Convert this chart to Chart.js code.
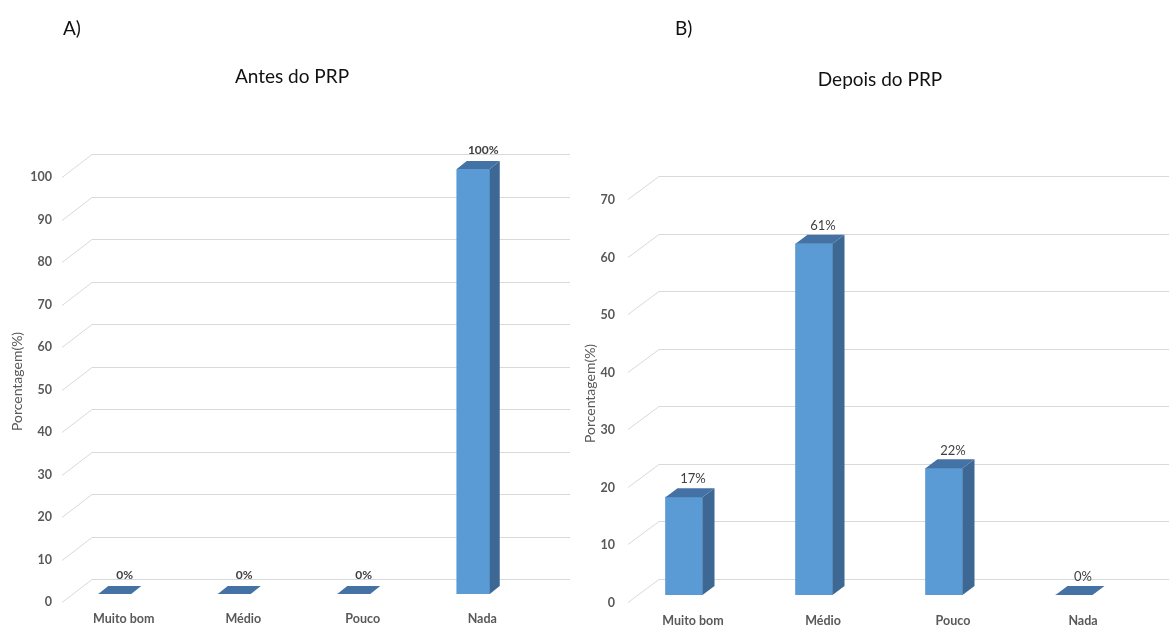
<!DOCTYPE html>
<html>
<head>
<meta charset="utf-8">
<script src="https://cdn.jsdelivr.net/npm/chart.js@4.4.1/dist/chart.umd.min.js"></script>
<style>
  html, body { margin: 0; padding: 0; background: #fff; width: 1169px; height: 626px; overflow: hidden;
               font-family: Lato, "Open Sans", sans-serif; }
  canvas { position: absolute; top: 0; }
  #chartA { left: 0; }
  #chartB { left: 575px; }
  .tag { position: absolute; font-size: 19px; line-height: 20px; color: #111; }
  .ttl { position: absolute; font-size: 19px; line-height: 20px; color: #111; transform: translateX(-50%); white-space: nowrap; }
</style>
</head>
<body>
<canvas id="chartA" width="575" height="626"></canvas>
<canvas id="chartB" width="594" height="626"></canvas>
<div class="tag" style="left:63px;top:18px">A)</div>
<div class="tag" style="left:675px;top:18px">B)</div>
<div class="ttl" style="left:292px;top:66px">Antes do PRP</div>
<div class="ttl" style="left:880px;top:69px">Depois do PRP</div>
<script>
// Response categories and percentages before / after PRP
const categories = ['Muito bom', 'Médio', 'Pouco', 'Nada'];
const antesPct = [0, 0, 0, 100];
const depoisPct = [17, 61, 22, 0];
const antesMax = 100;
const depoisMax = 70;
const tickStep = 10;

const FONT = 'Lato, "Open Sans", sans-serif';

// Pseudo-3D look: receding floor/wall gridlines, bar side + top faces, value labels
const box3d = {
  id: 'box3d',
  beforeDatasetsDraw(chart, args, o) {
    const { ctx, chartArea, scales: { y } } = chart;
    ctx.save();
    ctx.strokeStyle = '#d9d9d9';
    ctx.lineWidth = 1;
    y.ticks.forEach(t => {
      const py = Math.round(y.getPixelForValue(t.value)) + 0.5;
      const x0 = chartArea.left + o.floorX;
      const x1 = chartArea.left + o.wallX;
      const x2 = o.wallToEdge ? chart.width : chartArea.right + o.wallX;
      ctx.beginPath();
      ctx.moveTo(x0, py + o.floorY);
      ctx.lineTo(x1, py + o.wallY);
      ctx.lineTo(x2, py + o.wallY);
      ctx.stroke();
    });
    ctx.restore();
  },
  afterDatasetsDraw(chart, args, o) {
    const { ctx } = chart;
    const meta = chart.getDatasetMeta(0);
    const data = chart.data.datasets[0].data;
    ctx.save();
    meta.data.forEach((bar, i) => {
      const { x, y, base, width } = bar.getProps(['x', 'y', 'base', 'width'], true);
      const l = x - width / 2, r = x + width / 2;
      if (base - y > 0.5) {
        ctx.fillStyle = o.sideColor;
        ctx.beginPath();
        ctx.moveTo(r, base);
        ctx.lineTo(r + o.dx, base + o.dy);
        ctx.lineTo(r + o.dx, y + o.dy);
        ctx.lineTo(r, y);
        ctx.closePath();
        ctx.fill();
      }
      ctx.fillStyle = o.topColor;
      ctx.beginPath();
      ctx.moveTo(l, y);
      ctx.lineTo(l + o.dx, y + o.dy);
      ctx.lineTo(r + o.dx, y + o.dy);
      ctx.lineTo(r, y);
      ctx.closePath();
      ctx.fill();

      ctx.fillStyle = '#404040';
      ctx.font = o.labelFont;
      ctx.textAlign = 'center';
      ctx.textBaseline = 'middle';
      ctx.fillText(data[i] + '%', x + o.labelDx, y + o.labelDy);
    });
    ctx.restore();
  }
};

function panel(id, values, max, g) {
  return new Chart(document.getElementById(id), {
    type: 'bar',
    data: {
      labels: categories,
      datasets: [{ data: values, backgroundColor: '#5b9bd5', borderWidth: 0, barThickness: g.barW }]
    },
    options: {
      responsive: false,
      animation: false,
      devicePixelRatio: 1,
      layout: { padding: { top: g.top, right: g.right, left: 0, bottom: 0 } },
      plugins: {
        legend: { display: false },
        tooltip: { enabled: false },
        box3d: {
          floorX: g.floorX, floorY: g.floorY, wallX: g.wallX, wallY: g.wallY, wallToEdge: g.wallToEdge,
          dx: g.dx, dy: g.dy, sideColor: '#3c6893', topColor: '#4472a4',
          labelFont: g.labelFont, labelDx: g.labelDx, labelDy: g.labelDy
        }
      },
      scales: {
        x: {
          grid: { display: false, drawTicks: false },
          border: { display: false },
          ticks: {
            color: '#595959', font: { family: FONT, size: 12.5, weight: 'bold' },
            padding: g.xPad, labelOffset: 9, maxRotation: 0, autoSkip: false
          },
          afterFit(s) { s.height = 626 - g.bottom; }
        },
        y: {
          min: 0, max: max,
          grid: { display: false, drawTicks: false },
          border: { display: false },
          ticks: {
            stepSize: tickStep, color: '#595959', font: { family: FONT, size: 12.5, weight: 'bold' },
            padding: g.yPad, labelOffset: 8
          },
          title: {
            display: true, text: 'Porcentagem(%)', color: '#595959',
            font: { family: FONT, size: 14 }, padding: { top: g.titlePad, bottom: 0 }
          },
          afterFit(s) { s.width = g.left; }
        }
      }
    },
    plugins: [box3d]
  });
}

panel('chartA', antesPct, antesMax, {
  top: 169, bottom: 594, left: 55, right: 42, barW: 33,
  floorX: 7, floorY: 8, wallX: 37, wallY: -15, wallToEdge: false,
  dx: 10, dy: -8, xPad: 17, yPad: 3, titlePad: 9,
  labelFont: 'bold 12px ' + FONT, labelDx: 10, labelDy: -19
});

panel('chartB', depoisPct, depoisMax, {
  top: 192, bottom: 595, left: 44, right: 30, barW: 37,
  floorX: 9, floorY: 7, wallX: 40, wallY: -16, wallToEdge: true,
  dx: 12, dy: -9, xPad: 18, yPad: 4, titlePad: 7.5,
  labelFont: '13px ' + FONT, labelDx: 9, labelDy: -18
});
</script>
</body>
</html>
